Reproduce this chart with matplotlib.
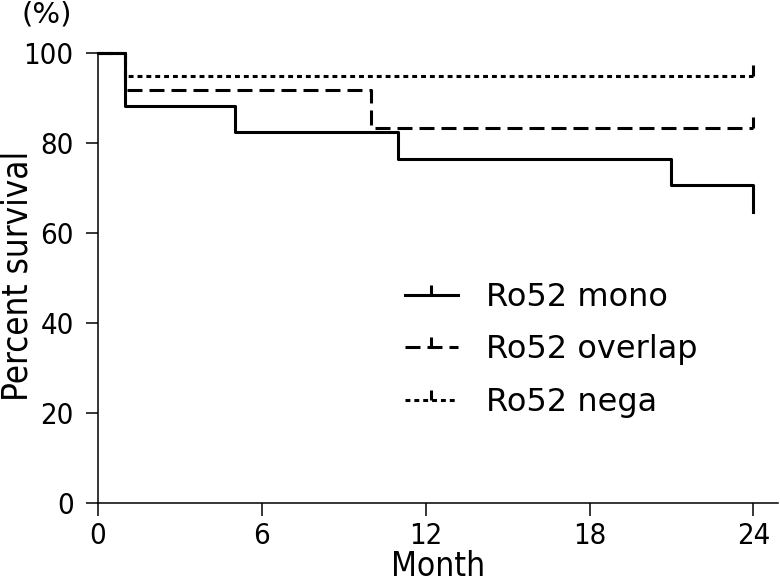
import numpy as np
from matplotlib import pyplot as plt
from matplotlib.path import Path
from matplotlib.lines import Line2D

plt.rcParams['font.family'] = 'DejaVu Sans'
plt.rcParams['font.stretch'] = 'condensed'

# survival curves (month, percent)
mono_t = [0, 1, 5, 11, 21, 24]
mono_s = [100, 88.2, 82.4, 76.5, 70.6, 64.7]
overlap_t = [0, 1, 10, 24]
overlap_s = [100, 91.7, 83.3, 83.3]
nega_t = [0, 1, 24]
nega_s = [100, 95.0, 95.0]

# censored points
overlap_cens_t = [24]
overlap_cens_s = [83.3]
nega_cens_t = [24]
nega_cens_s = [95.0]

labels = ['Ro52 mono', 'Ro52 overlap', 'Ro52 nega']
xticks = [0, 6, 12, 18, 24]
yticks = [0, 20, 40, 60, 80, 100]

tick = Path([[0, 0], [0, 1]])
lw = 2.2
dash = (4.9, 2.3)
dot = (1.6, 1.3)

fig = plt.figure(figsize=(7.8, 5.87), dpi=100)
ax = fig.add_axes([98/780, 1-503/587, 680/780, 450/587])

ax.plot(nega_t, nega_s, color='black', lw=lw, dashes=dot, drawstyle='steps-post', clip_on=False)
ax.plot(overlap_t, overlap_s, color='black', lw=lw, dashes=dash, drawstyle='steps-post', clip_on=False)
ax.plot(mono_t, mono_s, color='black', lw=lw, drawstyle='steps-post', clip_on=False)
ax.plot(overlap_cens_t, overlap_cens_s, ls='none', marker=tick, ms=16, mew=lw, color='black', clip_on=False)
ax.plot(nega_cens_t, nega_cens_s, ls='none', marker=tick, ms=16, mew=lw, color='black', clip_on=False)

ax.set_xlim(0, 24.9)
ax.set_ylim(0, 100)
ax.set_xticks(xticks)
ax.set_yticks(yticks)
ax.spines['top'].set_visible(False)
ax.spines['right'].set_visible(False)
for s in ['left', 'bottom']:
    ax.spines[s].set_linewidth(1.1)
ax.tick_params(direction='out', length=9, width=1.1, labelsize=21)
ax.tick_params(axis='x', pad=4.5)
ax.tick_params(axis='y', pad=8.5)
ax.set_xlabel('Month', fontsize=24)
ax.set_ylabel('Percent survival', fontsize=25)
ax.xaxis.set_label_coords(0.5, -0.105)
ax.yaxis.set_label_coords(-0.093, 0.505)
fig.text(47/780, 1-14/587, '(%)', fontsize=21, fontstretch='normal', ha='center', va='center')

handles = [
    Line2D([], [], color='black', lw=lw, marker=tick, ms=14, mew=lw),
    Line2D([], [], color='black', lw=lw, dashes=dash, marker=tick, ms=14, mew=lw),
    Line2D([], [], color='black', lw=lw, dashes=dot, marker=tick, ms=14, mew=lw),
]
fig.legend(handles, labels, loc='center left', bbox_to_anchor=(405/780, 1-350/587),
           frameon=False, prop={'size': 23, 'stretch': 'normal'}, borderpad=0, borderaxespad=0,
           handlelength=1.65, handletextpad=0.9, labelspacing=0.67)

fig.savefig('out.png', dpi=100)
